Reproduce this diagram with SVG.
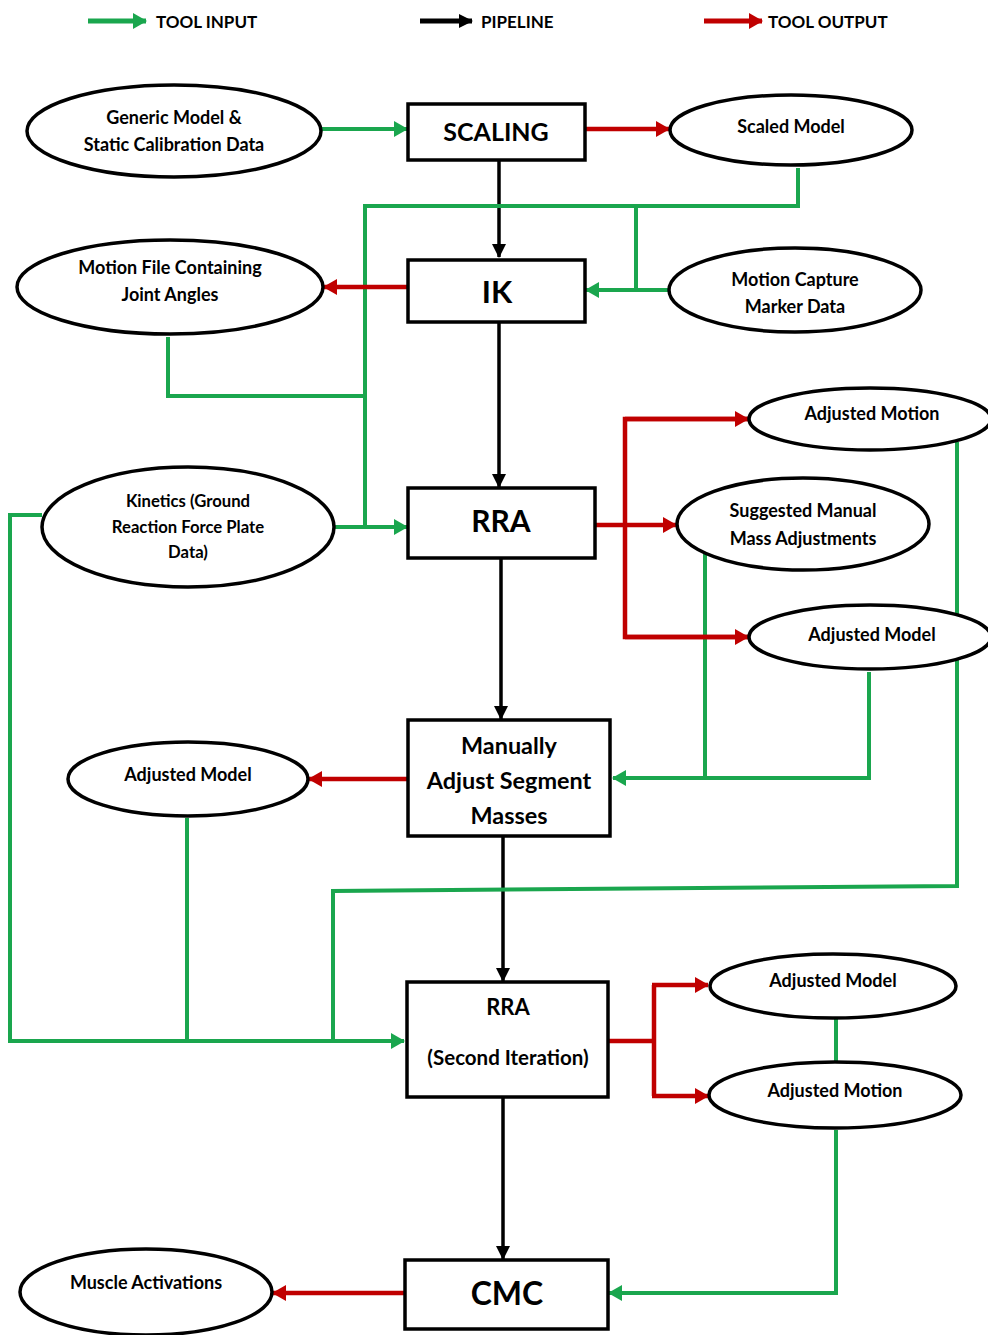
<svg xmlns="http://www.w3.org/2000/svg" width="988" height="1335" viewBox="0 0 988 1335">
<style>
.box{fill:#fff;stroke:#000;stroke-width:3.5}
.ell{fill:#fff;stroke:#000;stroke-width:3.5}
.t{font-family:Lato,"Open Sans",sans-serif;font-weight:bold;fill:#000;text-anchor:middle}
.s{font-size:18px}
.b{font-size:25px}
.g{fill:none;stroke:#1aa64e;stroke-width:4}
.r{fill:none;stroke:#c00000;stroke-width:4.5}
.k{fill:none;stroke:#000;stroke-width:3.5}
.lg{font-family:Lato,"Open Sans",sans-serif;font-weight:bold;font-size:17px;fill:#000}
</style>
<defs>
<marker id="ag" markerUnits="userSpaceOnUse" markerWidth="14" markerHeight="16" refX="13" refY="8" orient="auto"><path d="M0,0 L14,8 L0,16 z" fill="#1aa64e"/></marker>
<marker id="ar" markerUnits="userSpaceOnUse" markerWidth="14" markerHeight="16" refX="13" refY="8" orient="auto"><path d="M0,0 L14,8 L0,16 z" fill="#c00000"/></marker>
<marker id="ak" markerUnits="userSpaceOnUse" markerWidth="14" markerHeight="16" refX="13" refY="8" orient="auto"><path d="M0,1 L14,8 L0,15 z" fill="#000"/></marker>
</defs>
<rect width="988" height="1335" fill="#fff"/>
<g id="legend">
<line x1="88" y1="21" x2="146" y2="21" class="g" style="stroke-width:5" marker-end="url(#ag)"/>
<text x="156" y="28" class="lg">TOOL INPUT</text>
<line x1="420" y1="21" x2="472" y2="21" class="k" style="stroke-width:5" marker-end="url(#ak)"/>
<text x="481" y="28" class="lg">PIPELINE</text>
<line x1="704" y1="21" x2="762" y2="21" class="r" style="stroke-width:5" marker-end="url(#ar)"/>
<text x="768" y="28" class="lg">TOOL OUTPUT</text>
</g>
<g id="connectors">
<line x1="499" y1="160" x2="499" y2="257" class="k" marker-end="url(#ak)"/>
<line x1="499" y1="322" x2="499" y2="487" class="k" marker-end="url(#ak)"/>
<line x1="501" y1="558" x2="501" y2="719" class="k" marker-end="url(#ak)"/>
<line x1="503" y1="836" x2="503" y2="981" class="k" marker-end="url(#ak)"/>
<line x1="503" y1="1097" x2="503" y2="1259" class="k" marker-end="url(#ak)"/>
<line x1="321" y1="129" x2="407" y2="129" class="g" marker-end="url(#ag)"/>
<polyline points="798,168 798,206 365,206 365,527" class="g"/>
<polyline points="636,206 636,290" class="g"/>
<line x1="670" y1="290" x2="586" y2="290" class="g" marker-end="url(#ag)"/>
<polyline points="168,337 168,396 365,396" class="g"/>
<line x1="333" y1="527" x2="407" y2="527" class="g" marker-end="url(#ag)"/>
<polyline points="42,515 10,515 10,1041 404,1041" class="g" marker-end="url(#ag)"/>
<polyline points="705,553 705,778" class="g"/>
<polyline points="869,672 869,778 613,778" class="g" marker-end="url(#ag)"/>
<polyline points="957,442 957,886 333,891 333,1041" class="g"/>
<line x1="187" y1="818" x2="187" y2="1041" class="g"/>
<line x1="836" y1="1018" x2="836" y2="1062" class="g"/>
<polyline points="836,1130 836,1293 609,1293" class="g" marker-end="url(#ag)"/>
<line x1="585" y1="129" x2="669" y2="129" class="r" marker-end="url(#ar)"/>
<line x1="408" y1="287" x2="324" y2="287" class="r" marker-end="url(#ar)"/>
<line x1="595" y1="525" x2="676" y2="525" class="r" marker-end="url(#ar)"/>
<polyline points="748,419 625,419 625,637 748,637" class="r"/>
<line x1="625" y1="419" x2="748" y2="419" class="r" marker-end="url(#ar)"/>
<line x1="625" y1="637" x2="748" y2="637" class="r" marker-end="url(#ar)"/>
<line x1="408" y1="779" x2="309" y2="779" class="r" marker-end="url(#ar)"/>
<polyline points="608,1041 654,1041" class="r"/>
<polyline points="654,985 654,1096" class="r"/>
<line x1="652" y1="985" x2="708" y2="985" class="r" marker-end="url(#ar)"/>
<line x1="652" y1="1096" x2="708" y2="1096" class="r" marker-end="url(#ar)"/>
<line x1="405" y1="1293" x2="273" y2="1293" class="r" marker-end="url(#ar)"/>
</g>
<g id="generic"><ellipse cx="174" cy="131" rx="147" ry="46" class="ell"/><text x="174" y="124" class="t s">Generic Model &amp;</text><text x="174" y="151" class="t s">Static Calibration Data</text></g>
<g id="scaling"><rect x="408" y="104" width="177" height="56" class="box"/><text x="496" y="141" class="t b">SCALING</text></g>
<g id="scaled"><ellipse cx="791" cy="130" rx="121" ry="35" class="ell"/><text x="791" y="133" class="t s">Scaled Model</text></g>
<g id="ik"><rect x="408" y="260" width="177" height="62" class="box"/><text x="497" y="303" class="t" style="font-size:31px">IK</text></g>
<g id="motionfile"><ellipse cx="170" cy="287" rx="153" ry="47" class="ell"/><text x="170" y="274" class="t s">Motion File Containing</text><text x="170" y="301" class="t s">Joint Angles</text></g>
<g id="mocap"><ellipse cx="795" cy="290" rx="126" ry="42" class="ell"/><text x="795" y="286" class="t s">Motion Capture</text><text x="795" y="313" class="t s">Marker Data</text></g>
<g id="rra"><rect x="408" y="488" width="187" height="70" class="box"/><text x="501" y="532" class="t" style="font-size:30px">RRA</text></g>
<g id="kinetics"><ellipse cx="188" cy="527" rx="146" ry="60" class="ell"/><text x="188" y="507" class="t" style="font-size:16.7px">Kinetics (Ground</text><text x="188" y="533" class="t" style="font-size:16.7px">Reaction Force Plate</text><text x="188" y="558" class="t" style="font-size:16.7px">Data)</text></g>
<g id="adjmotion1"><ellipse cx="870" cy="419" rx="121" ry="31" class="ell"/><text x="872" y="420" class="t s">Adjusted Motion</text></g>
<g id="suggested"><ellipse cx="803" cy="524" rx="126" ry="46" class="ell"/><text x="803" y="517" class="t s">Suggested Manual</text><text x="803" y="545" class="t s">Mass Adjustments</text></g>
<g id="adjmodel1"><ellipse cx="870" cy="637" rx="121" ry="32" class="ell"/><text x="872" y="641" class="t s">Adjusted Model</text></g>
<g id="manual"><rect x="408" y="720" width="202" height="116" class="box"/><text x="509" y="754" class="t" style="font-size:23.4px">Manually</text><text x="509" y="789" class="t" style="font-size:23.4px">Adjust Segment</text><text x="509" y="824" class="t" style="font-size:23.4px">Masses</text></g>
<g id="adjmodel2"><ellipse cx="188" cy="779" rx="120" ry="37" class="ell"/><text x="188" y="781" class="t s">Adjusted Model</text></g>
<g id="rra2"><rect x="407" y="982" width="201" height="115" class="box"/><text x="508" y="1015" class="t" style="font-size:22px">RRA</text><text x="508" y="1065" class="t" style="font-size:20.5px">(Second Iteration)</text></g>
<g id="adjmodel3"><ellipse cx="833" cy="986" rx="123" ry="32" class="ell"/><text x="833" y="987" class="t s">Adjusted Model</text></g>
<g id="adjmotion2"><ellipse cx="835" cy="1095" rx="126" ry="33" class="ell"/><text x="835" y="1097" class="t s">Adjusted Motion</text></g>
<g id="cmc"><rect x="405" y="1260" width="203" height="69" class="box"/><text x="507" y="1305" class="t" style="font-size:32px">CMC</text></g>
<g id="muscle"><ellipse cx="146" cy="1292" rx="126" ry="43" class="ell"/><text x="146" y="1289" class="t s">Muscle Activations</text></g>
</svg>
